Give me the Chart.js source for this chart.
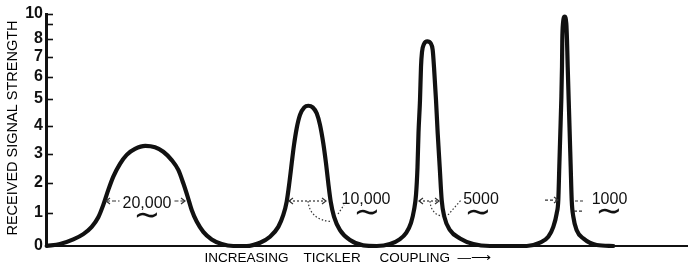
<!DOCTYPE html>
<html>
<head>
<meta charset="utf-8">
<script src="https://cdn.jsdelivr.net/npm/chart.js@4/dist/chart.umd.min.js"></script>
<style>
html,body{margin:0;padding:0;background:#fff;}
#wrap{width:688px;height:275px;position:relative;}
</style>
</head>
<body>
<div id="wrap"><canvas id="c" width="688" height="275"></canvas></div>
<script>
// ---------------- DATA ----------------
// Resonance curve with damping resistance 20,000
const curve20000X = [0.07, 1.4, 2.73, 3.73, 4.57, 5.23, 5.73, 6.23, 6.73, 7.4, 8.07, 8.9, 9.93, 10.9, 11.73, 12.57, 13.23, 13.73, 14.17, 14.57, 15.07, 15.73, 16.57, 17.57, 18.73];
const curve20000Y = [0, 0.06, 0.2, 0.36, 0.58, 0.87, 1.27, 1.77, 2.22, 2.66, 2.97, 3.18, 3.29, 3.24, 3.08, 2.79, 2.45, 1.99, 1.54, 1.1, 0.74, 0.43, 0.2, 0.06, 0];
// 10,000
const curve10000X = [20.07, 21.4, 22.4, 23.23, 23.73, 24.07, 24.33, 24.57, 24.8, 25.07, 25.4, 25.83, 26.23, 26.67, 27.07, 27.4, 27.73, 28.0, 28.23, 28.47, 28.8, 29.4, 30.4, 31.73, 33.07];
const curve10000Y = [0, 0.1, 0.28, 0.58, 0.94, 1.38, 1.99, 2.68, 3.32, 3.92, 4.41, 4.69, 4.75, 4.69, 4.47, 4.04, 3.38, 2.68, 1.99, 1.38, 0.89, 0.48, 0.18, 0.02, 0];
// 5000
const curve5000X = [34.4, 35.4, 36.0, 36.5, 36.8, 37.0, 37.15, 37.25, 37.4, 37.5, 37.6, 37.8, 38.13, 38.47, 38.67, 38.8, 39.0, 39.17, 39.37, 39.57, 39.83, 40.4, 41.4, 42.73, 44.4];
const curve5000Y = [0.06, 0.21, 0.39, 0.70, 1.1, 1.6, 2.55, 3.75, 4.96, 6.5, 7.28, 7.72, 7.87, 7.76, 7.39, 6.5, 4.96, 3.74, 2.56, 1.43, 0.89, 0.48, 0.23, 0.06, 0];
// 1000
const curve1000X = [48.07, 49.4, 50.23, 50.73, 51.07, 51.23, 51.33, 51.43, 51.53, 51.6, 51.63, 51.7, 51.87, 52.03, 52.1, 52.17, 52.27, 52.37, 52.47, 52.57, 52.73, 53.07, 53.73, 55.07, 56.73];
const curve1000Y = [0, 0.1, 0.28, 0.58, 0.99, 1.43, 2.56, 3.74, 4.96, 6.52, 7.94, 9.07, 9.73, 9.07, 7.94, 6.52, 4.96, 3.74, 2.56, 1.43, 0.89, 0.48, 0.23, 0.03, 0];

const yTickValues = [0, 1, 2, 3, 4, 5, 6, 7, 8, 9, 10];
const yTickLabels = ['0', '1', '2', '3', '4', '5', '6', '7', '8', '', '10'];
const bandLabels = ['20,000', '10,000', '5000', '1000'];
const tildeLabel = '\u223C';
const yAxisTitle = ' RECEIVED SIGNAL STRENGTH';
const xAxisTitle = 'INCREASING    TICKLER     COUPLING  \u2014\u27F6          ';

// ---------------- SCALE GEOMETRY (the original's hand-drawn, non-uniform axis) ----------------
const axisFractions = [0, 33/232, 63/232, 92/232, 120/232, 147/232, 169/232, 189/232, 207/232, 222/232, 1];
function warpValue(v) {
  if (v <= 0) return v * axisFractions[1];
  if (v >= 10) return 1 + (v - 10) * (axisFractions[10] - axisFractions[9]);
  const k = Math.floor(v);
  return axisFractions[k] + (v - k) * (axisFractions[k + 1] - axisFractions[k]);
}
function unwarpDecimal(f) {
  for (let k = 0; k < 10; k++) {
    if (f <= axisFractions[k + 1]) return k + (f - axisFractions[k]) / (axisFractions[k + 1] - axisFractions[k]);
  }
  return 10;
}
class WarpedScale extends Chart.LinearScale {
  getPixelForValue(value) {
    if (value === null || value === undefined || isNaN(value)) return NaN;
    return this.getPixelForDecimal(warpValue(value));
  }
  getValueForPixel(pixel) {
    return unwarpDecimal(this.getDecimalForPixel(pixel));
  }
}
WarpedScale.id = 'warped';
WarpedScale.defaults = Chart.LinearScale.defaults;
Chart.register(WarpedScale);

// ---------------- build the trace ----------------
function toPoints(xs, ys) { return xs.map((x, i) => ({ x: x, y: ys[i] })); }
const trace = [].concat(
  toPoints(curve20000X, curve20000Y),
  toPoints(curve10000X, curve10000Y),
  toPoints(curve5000X, curve5000Y),
  toPoints(curve1000X, curve1000Y)
);

// Annotation placements in data units
const bandNotes = [
  { label: bandLabels[0], at: [10.1, 1.37], tilde: [10.1, 0.9], span: [5.9, 14.0, 1.4], kind: 'split' },
  { label: bandLabels[1], at: [32.0, 1.5], tilde: [32.1, 0.97], span: [24.2, 28.1, 1.4], kind: 'double',
    hook: [[26.2, 1.4], [26.4, 0.78], [28.6, 0.74]], leader: [[29.2, 0.97], [29.8, 1.27]] },
  { label: bandLabels[2], at: [43.5, 1.5], tilde: [43.2, 0.97], span: [37.2, 39.4, 1.4], kind: 'double',
    hook: [[38.4, 1.4], [38.5, 0.95], [39.7, 0.9]], leader: [[40.2, 0.94], [41.5, 1.43]] },
  { label: bandLabels[3], at: [56.35, 1.5], tilde: [56.3, 1.0], span: [49.9, 51.2, 1.43], kind: 'pointer',
    dashes: [[[52.9, 1.4], [53.9, 1.4]], [[52.8, 1.06], [53.6, 1.06]]] }
];

const INK = '#111111';

const notesPlugin = {
  id: 'notes',
  afterDraw(chart) {
    const { ctx, scales } = chart;
    const xs = scales.x, ys = scales.y;
    const X = v => xs.getPixelForValue(v), Y = v => ys.getPixelForValue(v);
    ctx.save();
    // inner tick marks on the y axis
    ctx.strokeStyle = INK;
    ctx.lineWidth = 1.6;
    ctx.setLineDash([]);
    yTickValues.forEach(v => {
      if (v === 0) return;
      const py = Math.round(Y(v)) + 0.5;
      ctx.beginPath();
      ctx.moveTo(X(0), py);
      ctx.lineTo(X(0) + 7, py);
      ctx.stroke();
    });

    const head = (x, y, dir) => {
      ctx.setLineDash([]);
      ctx.beginPath();
      ctx.moveTo(x - dir * 4, y - 3);
      ctx.lineTo(x, y);
      ctx.lineTo(x - dir * 4, y + 3);
      ctx.stroke();
    };
    const seg = (a, b) => {
      ctx.beginPath(); ctx.moveTo(a[0], a[1]); ctx.lineTo(b[0], b[1]); ctx.stroke();
    };

    ctx.fillStyle = INK;
    ctx.textAlign = 'center';

    bandNotes.forEach(n => {
      const cx = X(n.at[0]), cy = Y(n.at[1]);
      ctx.textBaseline = 'alphabetic';
      ctx.font = '16px "Liberation Sans", Arial, sans-serif';
      const w = ctx.measureText(n.label).width;
      ctx.fillText(n.label, cx, cy + 0.358 * 16);
      ctx.strokeStyle = '#333';
      ctx.lineWidth = 1.2;
      const ay = Y(n.span[2]);
      const xl = X(n.span[0]), xr = X(n.span[1]);
      if (n.kind === 'split') {
        ctx.setLineDash([4, 2]);
        seg([xl + 1, ay], [cx - w / 2 - 3, ay]);
        seg([cx + w / 2 + 3, ay], [xr - 1, ay]);
        head(xl + 1, ay, -1);
        head(xr - 1, ay, 1);
      } else if (n.kind === 'double') {
        ctx.setLineDash([2, 2]);
        seg([xl + 1, ay], [xr - 1, ay]);
        head(xl + 1, ay, -1);
        head(xr - 1, ay, 1);
        ctx.setLineDash([1.5, 2]);
        ctx.beginPath();
        ctx.moveTo(X(n.hook[0][0]), Y(n.hook[0][1]));
        ctx.quadraticCurveTo(X(n.hook[1][0]), Y(n.hook[1][1]), X(n.hook[2][0]), Y(n.hook[2][1]));
        ctx.stroke();
        seg([X(n.leader[0][0]), Y(n.leader[0][1])], [X(n.leader[1][0]), Y(n.leader[1][1])]);
      } else if (n.kind === 'pointer') {
        ctx.setLineDash([3, 2]);
        seg([xl, ay], [xr, ay]);
        head(xr, ay, 1);
        n.dashes.forEach(d => {
          ctx.setLineDash([3, 2]);
          seg([X(d[0][0]), Y(d[0][1])], [X(d[1][0]), Y(d[1][1])]);
        });
      }
      // tilde
      ctx.setLineDash([]);
      ctx.textBaseline = 'middle';
      ctx.font = '32px "DejaVu Sans", sans-serif';
      ctx.fillText(tildeLabel, X(n.tilde[0]), Y(n.tilde[1]));
    });
    ctx.restore();
  }
};

new Chart(document.getElementById('c'), {
  type: 'line',
  data: {
    datasets: [{
      data: trace,
      borderColor: INK,
      borderWidth: 4.2,
      pointRadius: 0,
      fill: false,
      cubicInterpolationMode: 'monotone',
      borderCapStyle: 'round',
      borderJoinStyle: 'round',
      clip: false
    }]
  },
  options: {
    responsive: false,
    animation: false,
    devicePixelRatio: 1,
    layout: { padding: { top: 14, right: 1, left: 0, bottom: 0 } },
    plugins: { legend: { display: false }, tooltip: { enabled: false } },
    scales: {
      x: {
        type: 'linear', min: 0, max: 64.1,
        grid: { display: false, drawTicks: false },
        border: { display: true, color: INK, width: 2 },
        ticks: { display: false },
        title: { display: true, text: xAxisTitle, color: '#000',
          font: { family: '"Liberation Sans", Arial, sans-serif', size: 13.5 },
          padding: { top: 0, bottom: 9 } },
        afterFit(s) { s.height = 29; }
      },
      y: {
        type: 'warped', min: 0, max: 10,
        afterBuildTicks(s) { s.ticks = yTickValues.map(v => ({ value: v })); },
        grid: { display: false, drawTicks: false },
        border: { display: true, color: INK, width: 3 },
        ticks: {
          autoSkip: false, padding: 3, color: INK,
          font: { family: '"Liberation Sans", Arial, sans-serif', size: 16, weight: 'bold' },
          callback: (v) => yTickLabels[yTickValues.indexOf(v)]
        },
        title: { display: true, text: yAxisTitle, color: '#000',
          font: { family: '"Liberation Sans", Arial, sans-serif', size: 14.5 },
          padding: { top: 4, bottom: 0 } },
        afterFit(s) { s.width = 46; }
      }
    }
  },
  plugins: [notesPlugin]
});
</script>
</body>
</html>
